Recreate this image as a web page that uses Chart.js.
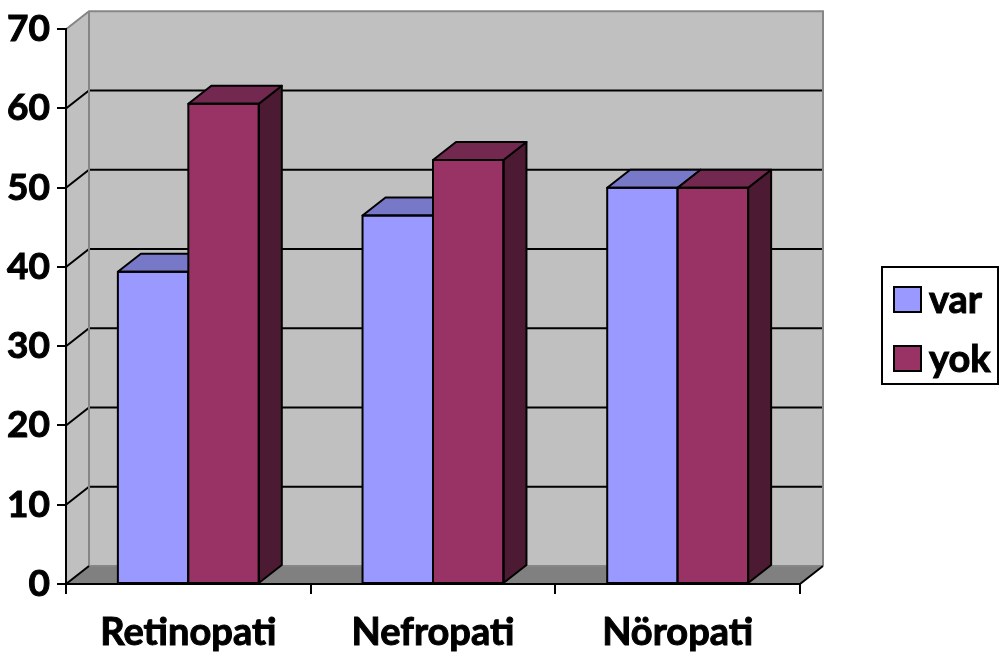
<!DOCTYPE html>
<html>
<head>
<meta charset="utf-8">
<script src="https://cdn.jsdelivr.net/npm/chart.js@4/dist/chart.umd.min.js"></script>
<style>
  html, body { margin: 0; padding: 0; background: #ffffff; }
  #wrap { position: relative; width: 1000px; height: 658px; }
</style>
</head>
<body>
<div id="wrap"><canvas id="chart"></canvas></div>
<script>
// Categories, series and axis ticks
const categories = ['Retinopati', 'Nefropati', 'Nöropati'];
const seriesNames = ['var', 'yok'];
const varValues = [39.4, 46.5, 50];
const yokValues = [60.6, 53.5, 50];
const yTicks = [0, 10, 20, 30, 40, 50, 60, 70];

const FONT = 'Lato, "Open Sans", sans-serif';
const DEPTH_X = 23;   // horizontal depth of the 3D box
const DEPTH_Y = 18;   // vertical depth of the 3D box

const faceColors = [
  { front: '#9999ff', top: '#7878c8', side: '#4c4c80' },
  { front: '#993366', top: '#732850', side: '#4d1a33' }
];

const walls3d = {
  id: 'walls3d',
  // walls, floor and back gridlines behind everything
  beforeDraw(chart) {
    const { ctx, chartArea: a, scales } = chart;
    const y = scales.y;
    const L = a.left, R = a.right, T = a.top, B = a.bottom;
    const dx = DEPTH_X, dy = DEPTH_Y;
    ctx.save();
    // back wall
    ctx.fillStyle = '#c0c0c0';
    ctx.fillRect(L + dx, T - dy, R - L, B - T);
    // left side wall
    ctx.beginPath();
    ctx.moveTo(L, T); ctx.lineTo(L + dx, T - dy);
    ctx.lineTo(L + dx, B - dy); ctx.lineTo(L, B);
    ctx.closePath(); ctx.fill();
    // floor
    ctx.fillStyle = '#808080';
    ctx.beginPath();
    ctx.moveTo(L, B); ctx.lineTo(L + dx, B - dy);
    ctx.lineTo(R + dx, B - dy); ctx.lineTo(R, B);
    ctx.closePath(); ctx.fill();

    // gridlines on back wall and side wall
    ctx.lineWidth = 2;
    ctx.strokeStyle = '#000000';
    yTicks.forEach(v => {
      if (v === yTicks[0] || v === yTicks[yTicks.length - 1]) return;
      const py = y.getPixelForValue(v);
      ctx.beginPath();
      ctx.moveTo(L, py); ctx.lineTo(L + dx, py - dy);
      ctx.lineTo(R + dx, py - dy);
      ctx.stroke();
    });

    // wall edges
    ctx.strokeStyle = '#868686';
    ctx.beginPath();
    ctx.moveTo(L, T); ctx.lineTo(L + dx, T - dy);
    ctx.lineTo(R + dx, T - dy); ctx.lineTo(R + dx, B - dy);
    ctx.stroke();
    ctx.beginPath();
    ctx.moveTo(L + dx, T - dy); ctx.lineTo(L + dx, B - dy);
    ctx.lineTo(R + dx, B - dy);
    ctx.stroke();
    // floor side edges
    ctx.strokeStyle = '#000000';
    ctx.beginPath();
    ctx.moveTo(L, B); ctx.lineTo(L + dx, B - dy);
    ctx.moveTo(R, B); ctx.lineTo(R + dx, B - dy);
    ctx.stroke();
    ctx.restore();
  },
  // columns as boxes: series painted in order so 'yok' hides the side of 'var'
  afterDatasetsDraw(chart) {
    const { ctx } = chart;
    const dx = DEPTH_X, dy = DEPTH_Y;
    ctx.save();
    chart.data.datasets.forEach((ds, i) => {
      const colors = faceColors[i];
      chart.getDatasetMeta(i).data.forEach(bar => {
        bar.draw(ctx);
        const p = bar.getProps(['x', 'y', 'base', 'width'], true);
        const l = p.x - p.width / 2, r = p.x + p.width / 2;
        const t = p.y, b = p.base;
        ctx.lineWidth = 2;
        ctx.lineJoin = 'round';
        ctx.strokeStyle = '#000000';
        // side
        ctx.fillStyle = colors.side;
        ctx.beginPath();
        ctx.moveTo(r, t); ctx.lineTo(r + dx, t - dy);
        ctx.lineTo(r + dx, b - dy); ctx.lineTo(r, b);
        ctx.closePath(); ctx.fill(); ctx.stroke();
        // top
        ctx.fillStyle = colors.top;
        ctx.beginPath();
        ctx.moveTo(l, t); ctx.lineTo(l + dx, t - dy);
        ctx.lineTo(r + dx, t - dy); ctx.lineTo(r, t);
        ctx.closePath(); ctx.fill(); ctx.stroke();
        // front outline
        ctx.strokeRect(l, t, r - l, b - t);
      });
    });
    ctx.restore();
  },
  // legend box at the right
  afterDraw(chart) {
    const { ctx } = chart;
    ctx.save();
    ctx.lineWidth = 2;
    ctx.strokeStyle = '#000000';
    ctx.strokeRect(882, 267, 116, 117);
    ctx.font = 'bold 38px ' + FONT;
    ctx.textBaseline = 'alphabetic';
    ctx.textAlign = 'left';
    chart.data.datasets.forEach((ds, i) => {
      const sy = 287 + i * 59;
      ctx.lineWidth = 2;
      ctx.fillStyle = ds.backgroundColor;
      ctx.fillRect(894, sy, 27, 25);
      ctx.strokeRect(894, sy, 27, 25);
      ctx.fillStyle = '#000000';
      ctx.lineWidth = 1;
      ctx.fillText(ds.label, 929, sy + 26);
      ctx.strokeText(ds.label, 929, sy + 26);
    });
    ctx.restore();
  }
};

new Chart(document.getElementById('chart'), {
  type: 'bar',
  data: {
    labels: categories,
    datasets: [
      { label: seriesNames[0], data: varValues, backgroundColor: faceColors[0].front, borderWidth: 0 },
      { label: seriesNames[1], data: yokValues, backgroundColor: faceColors[1].front, borderWidth: 0 }
    ]
  },
  options: {
    responsive: true,
    maintainAspectRatio: false,
    animation: false,
    categoryPercentage: 0.576,
    barPercentage: 1,
    layout: { padding: { top: 24, right: 200, bottom: 0, left: 0 } },
    plugins: { legend: { display: false }, tooltip: { enabled: false } },
    scales: {
      x: {
        afterFit: s => { s.height = 74; },
        grid: { drawOnChartArea: false, drawTicks: true, tickLength: 10, color: '#000000', lineWidth: 2, offset: true },
        border: { color: '#000000', width: 2 },
        ticks: {
          color: '#000000', font: { family: FONT, size: 38, weight: 'bold' }, padding: 16,
          textStrokeColor: '#000000', textStrokeWidth: 1
        }
      },
      y: {
        min: yTicks[0],
        max: yTicks[yTicks.length - 1],
        afterFit: s => { s.width = 66; },
        afterBuildTicks: s => { s.ticks = yTicks.map(v => ({ value: v })); },
        grid: { drawOnChartArea: false, drawTicks: true, tickLength: 9, color: '#000000', lineWidth: 2 },
        border: { color: '#000000', width: 2 },
        ticks: {
          color: '#000000', font: { family: FONT, size: 37, weight: 'bold' }, padding: 7,
          textStrokeColor: '#000000', textStrokeWidth: 1
        }
      }
    }
  },
  plugins: [walls3d]
});
</script>
</body>
</html>
